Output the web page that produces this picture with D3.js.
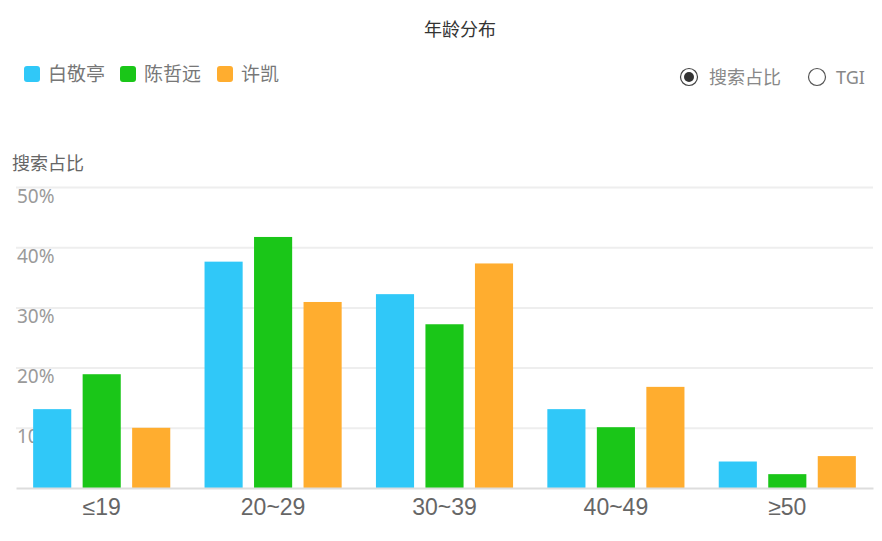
<!DOCTYPE html>
<html>
<head>
<meta charset="utf-8">
<script src="https://cdn.jsdelivr.net/npm/d3@7"></script>
<style>
  body { margin: 0; background: #fff; }
  svg { display: block; font-family: "Noto Sans CJK SC", "Noto Sans", sans-serif; }
</style>
</head>
<body>
<div id="chart"></div>
<script>
// data
var ages = ["≤19", "20~29", "30~39", "40~49", "≥50"];
var people = ["白敬亭", "陈哲远", "许凯"];
var colors = ["#30c8f8", "#1ac618", "#ffad2f"];
var baiJingting = [13.1, 37.6, 32.2, 13.1, 4.4];
var chenZheyuan = [18.9, 41.7, 27.2, 10.1, 2.3];
var xuKai = [10.0, 30.9, 37.3, 16.8, 5.3];
var yTicks = [10, 20, 30, 40, 50];

var seriesList = [baiJingting, chenZheyuan, xuKai];

var width = 882, height = 541;
var margin = { left: 16, right: 9, top: 187, bottom: 53 };

var svg = d3.select("#chart").append("svg")
    .attr("width", width)
    .attr("height", height);

// title
svg.append("text")
    .attr("x", 460).attr("y", 36)
    .attr("text-anchor", "middle")
    .attr("font-size", "18px")
    .attr("fill", "#333")
    .text("年龄分布");

// legend
var legend = svg.append("g").attr("class", "legend");
var legendX = [24, 120, 217];
people.forEach(function(name, i) {
    var g = legend.append("g").attr("transform", "translate(" + legendX[i] + ",66)");
    g.append("rect")
        .attr("width", 16).attr("height", 16)
        .attr("rx", 3)
        .attr("fill", colors[i]);
    g.append("text")
        .attr("x", 24).attr("y", 15)
        .attr("font-size", "19px")
        .attr("fill", "#777")
        .text(name);
});

// radio buttons (搜索占比 / TGI)
var radio = svg.append("g");
radio.append("circle").attr("cx", 689).attr("cy", 77).attr("r", 8.5)
    .attr("fill", "none").attr("stroke", "#444").attr("stroke-width", 1.2);
radio.append("circle").attr("cx", 689).attr("cy", 77).attr("r", 5)
    .attr("fill", "#333");
radio.append("text").attr("x", 709).attr("y", 84)
    .attr("font-size", "18px").attr("fill", "#888").text("搜索占比");
radio.append("circle").attr("cx", 817).attr("cy", 77).attr("r", 8.5)
    .attr("fill", "none").attr("stroke", "#555").attr("stroke-width", 1.2);
radio.append("text").attr("x", 836).attr("y", 84)
    .attr("font-size", "18px").attr("fill", "#888")
    .attr("font-family", "'Noto Sans', sans-serif")
    .text("TGI");

// y axis name
svg.append("text")
    .attr("x", 12).attr("y", 170)
    .attr("font-size", "18px")
    .attr("fill", "#666")
    .text("搜索占比");

// scales
var x0 = d3.scaleBand()
    .domain(ages)
    .range([margin.left, width - margin.right])
    .paddingInner(0.2)
    .paddingOuter(0.1);

var x1 = d3.scaleBand()
    .domain(d3.range(people.length))
    .range([0, x0.bandwidth()])
    .paddingInner(0.23);

var y = d3.scaleLinear()
    .domain([0, 50])
    .range([height - margin.bottom, margin.top]);

// grid lines + y labels
var yAxis = svg.append("g")
    .attr("transform", "translate(" + margin.left + ",0)")
    .call(d3.axisLeft(y)
        .tickValues(yTicks)
        .tickSize(-(width - margin.left - margin.right))
        .tickFormat(function(d) { return d + "%"; }));

yAxis.select(".domain").remove();
yAxis.selectAll(".tick line")
    .attr("stroke", "#eeeeee")
    .attr("stroke-width", 2);
yAxis.selectAll(".tick text")
    .attr("x", 1)
    .attr("dy", "15px")
    .attr("text-anchor", "start")
    .attr("font-size", "19px")
    .attr("font-family", "'Noto Sans', 'Noto Sans CJK SC', sans-serif")
    .attr("fill", "#9a9a9a");

// bars
var groups = svg.selectAll(".age-group")
    .data(ages)
    .enter().append("g")
    .attr("class", "age-group")
    .attr("transform", function(d) { return "translate(" + x0(d) + ",0)"; });

groups.selectAll("rect")
    .data(function(d, i) {
        return seriesList.map(function(s, k) { return { k: k, value: s[i] }; });
    })
    .enter().append("rect")
    .attr("x", function(d) { return x1(d.k); })
    .attr("y", function(d) { return y(d.value); })
    .attr("width", x1.bandwidth())
    .attr("height", function(d) { return y(0) - y(d.value); })
    .attr("fill", function(d) { return colors[d.k]; });

// x axis
var xAxis = svg.append("g")
    .attr("transform", "translate(0," + y(0) + ")")
    .call(d3.axisBottom(x0).tickSize(0).tickPadding(11));

xAxis.select(".domain")
    .attr("stroke", "#dddddd")
    .attr("stroke-width", 2);
xAxis.selectAll(".tick text")
    .attr("font-size", "23px")
    .attr("font-family", "'Liberation Sans', Arial, sans-serif")
    .attr("fill", "#666");
</script>
</body>
</html>
